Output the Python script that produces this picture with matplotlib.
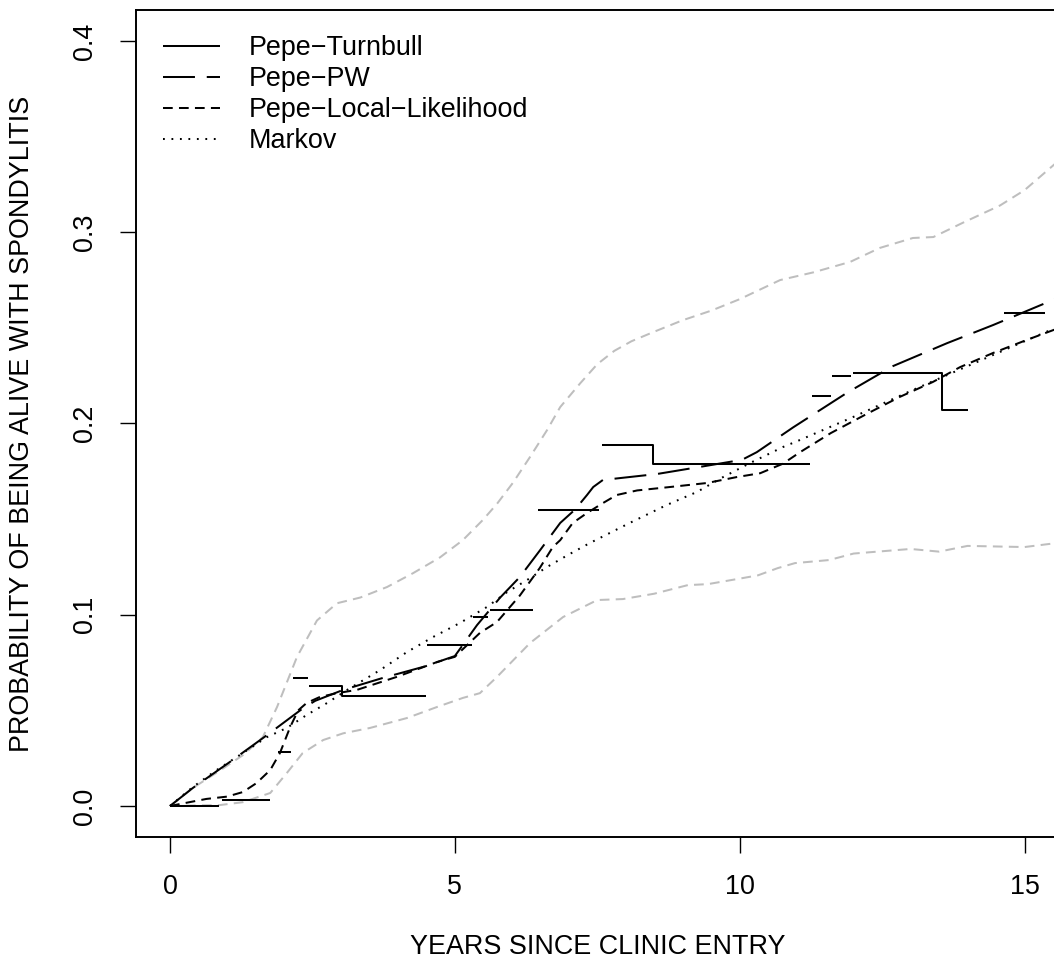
import matplotlib
matplotlib.use("Agg")
import matplotlib.pyplot as plt

plt.rcParams["font.family"] = ["Liberation Sans", "DejaVu Sans"]
plt.rcParams["lines.scale_dashes"] = False

# Pepe-Turnbull: step estimate, given as (start, end, value) pieces
tb_start = [0.00, 0.91, 1.90, 2.16, 2.44, 3.02, 4.51, 5.32, 5.62, 6.46, 7.58, 8.48, 11.27, 11.62, 11.99, 13.55, 14.64]
tb_end   = [0.86, 1.76, 2.12, 2.42, 3.02, 4.49, 5.30, 5.58, 6.37, 7.53, 8.48, 11.23, 11.60, 11.95, 13.55, 14.00, 15.36]
tb_val   = [0.000, 0.003, 0.028, 0.067, 0.0627, 0.0575, 0.084, 0.099, 0.1025, 0.155, 0.1885, 0.179, 0.2145, 0.2249, 0.2263, 0.207, 0.2576]

# Pepe-PW
pw_x = [0, 0.40, 1.05, 1.70, 2.33, 2.55, 3.04, 3.74, 4.44, 5.0, 5.14, 5.39, 5.79, 6.14, 6.50, 6.85,
        7.11, 7.32, 7.43, 7.60, 7.76, 8.55, 9.3, 10.04, 10.3, 10.94, 11.88, 12.69, 13.64, 14.45, 15.5, 15.7]
pw_y = [0, 0.0094, 0.023, 0.037, 0.051, 0.055, 0.0607, 0.067, 0.0727, 0.0784, 0.0842, 0.0946, 0.1088, 0.1197, 0.1339, 0.148,
        0.155, 0.1626, 0.1668, 0.1705, 0.171, 0.1736, 0.1773, 0.181, 0.185, 0.198, 0.216, 0.230, 0.242, 0.2515, 0.2646, 0.267]

# Pepe-Local-Likelihood
ll_x = [0, 0.29, 0.64, 1.0, 1.28, 1.52, 1.76, 1.93, 2.11, 2.25, 2.4, 2.63, 2.93, 3.28, 3.98, 4.69, 5.0, 5.44,
        5.74, 6.14, 6.49, 6.72, 6.85, 7.07, 7.32, 7.6, 7.84, 8.2, 8.78, 9.43, 9.95, 10.36, 10.76, 11.06, 11.6,
        12.23, 12.81, 13.39, 13.87, 14.45, 15.04, 15.7]
ll_y = [0, 0.0017, 0.0037, 0.0049, 0.0073, 0.012, 0.0188, 0.0277, 0.0413, 0.050, 0.0539, 0.057, 0.059, 0.0607, 0.0675, 0.0753, 0.078, 0.0905,
        0.0962, 0.110, 0.1244, 0.1354, 0.139, 0.148, 0.1532, 0.1584, 0.1626, 0.165, 0.1668, 0.1689, 0.172, 0.174, 0.179, 0.185, 0.195,
        0.205, 0.2139, 0.2217, 0.2295, 0.2369, 0.2437, 0.251]

# Markov
mk_x = [0, 0.4, 0.82, 1.28, 1.70, 2.05, 2.40, 2.76, 3.11, 3.69, 4.16, 4.62, 5.09, 5.56, 5.92, 6.27, 6.62, 7.0,
        7.37, 8.07, 8.72, 9.25, 9.71, 10.18, 10.76, 11.06, 12.0, 13.0, 14.0, 15.0, 15.7]
mk_y = [0, 0.0099, 0.0188, 0.0277, 0.036, 0.0408, 0.0476, 0.0539, 0.0607, 0.0711, 0.0805, 0.0884, 0.0957, 0.104, 0.1119, 0.1182, 0.125, 0.1315,
        0.1375, 0.148, 0.1574, 0.1642, 0.172, 0.1793, 0.1877, 0.1914, 0.2035, 0.217, 0.230, 0.243, 0.252]

# grey pointwise band (upper / lower)
up_x = [0, 0.4, 0.9, 1.3, 1.63, 1.88, 2.23, 2.58, 2.93, 3.34, 3.81, 4.27, 4.74, 5.14, 5.49, 5.74, 6.02, 6.32, 6.62,
        6.85, 7.2, 7.5, 7.8, 8.1, 8.5, 9.0, 9.5, 10.0, 10.71, 11.29, 11.94, 12.46, 13.04, 13.4, 13.92, 14.57, 15.0, 15.7]
up_y = [0, 0.0094, 0.019, 0.027, 0.036, 0.0518, 0.078, 0.097, 0.106, 0.109, 0.1145, 0.1218, 0.130, 0.139, 0.1495, 0.158, 0.169, 0.1825, 0.1966,
        0.2086, 0.221, 0.231, 0.238, 0.243, 0.248, 0.254, 0.259, 0.265, 0.275, 0.279, 0.2845, 0.2918, 0.297, 0.2975, 0.305, 0.314, 0.322, 0.340]
lo_x = [0, 0.88, 1.28, 1.76, 2.05, 2.33, 2.69, 3.04, 3.51, 4.16, 4.69, 5.14, 5.44, 5.74, 6.32, 6.9, 7.5, 7.95,
        8.5, 9.09, 9.44, 10.02, 10.32, 10.67, 10.97, 11.57, 12.0, 13.0, 13.5, 14.0, 15.0, 15.7]
lo_y = [0, 0.0005, 0.002, 0.0068, 0.0172, 0.0277, 0.0345, 0.038, 0.0408, 0.046, 0.0518, 0.0565, 0.059, 0.0675, 0.0852, 0.0988, 0.1077, 0.1082,
        0.111, 0.1155, 0.116, 0.119, 0.1206, 0.1244, 0.127, 0.1286, 0.132, 0.1344, 0.133, 0.136, 0.1354, 0.138]

x_ticks = [0, 5, 10, 15]
y_ticks = [0.0, 0.1, 0.2, 0.3, 0.4]
labels = ["Pepe\u2212Turnbull", "Pepe\u2212PW", "Pepe\u2212Local\u2212Likelihood", "Markov"]

W, H = 1054, 964
fig = plt.figure(figsize=(W / 100, H / 100), dpi=100)
ax = fig.add_axes([135.8 / W, (H - 836.6) / H, 922.9 / W, 826.2 / H])
ax.set_xlim(-0.6, 15.6)
ax.set_ylim(-0.016, 0.416)

lw = 1.45
fs = 19.4
grey = "#BEBEBE"
dash_pw = (0, (23, 8.5))
dash_ll = (0, (7, 4.5))
dash_mk = (0, (1.3, 4.8))

ax.plot(up_x, up_y, color=grey, lw=lw, linestyle=dash_ll)
ax.plot(lo_x, lo_y, color=grey, lw=lw, linestyle=dash_ll)

# turnbull pieces: join touching pieces into one stepped path
first = True
i = 0
while i < len(tb_start):
    xs, ys = [tb_start[i], tb_end[i]], [tb_val[i], tb_val[i]]
    while i + 1 < len(tb_start) and abs(tb_start[i + 1] - tb_end[i]) < 1e-9:
        i += 1
        xs += [tb_start[i], tb_end[i]]
        ys += [tb_val[i], tb_val[i]]
    ax.plot(xs, ys, color="black", lw=lw, solid_capstyle="butt",
            label=labels[0] if first else None)
    first = False
    i += 1

ax.plot(pw_x, pw_y, color="black", lw=lw, linestyle=dash_pw, label=labels[1])
ax.plot(ll_x, ll_y, color="black", lw=lw, linestyle=dash_ll, label=labels[2])
ax.plot(mk_x, mk_y, color="black", lw=lw, linestyle=dash_mk, label=labels[3])

ax.set_xticks(x_ticks)
ax.set_xticklabels([str(v) for v in x_ticks])
ax.set_yticks(y_ticks)
ax.set_yticklabels([f"{v:.1f}" for v in y_ticks], rotation=90, va="center")
ax.tick_params(direction="out", length=11.5, width=1.0, labelsize=fs, pad=15.5)
for s in ax.spines.values():
    s.set_linewidth(1.4)

ax.set_xlabel("YEARS SINCE CLINIC ENTRY", fontsize=fs, va="center")
ax.xaxis.set_label_coords(0.5, (836.6 - 947) / 826.2)
ax.set_ylabel("PROBABILITY OF BEING ALIVE WITH SPONDYLITIS", fontsize=fs, va="center")
ax.yaxis.set_label_coords((22 - 135.8) / 922.9, 0.5)

ax.legend(loc="upper left", bbox_to_anchor=((163 - 135.8) / 922.9, (836.6 - 35) / 826.2),
          frameon=False, fontsize=fs, borderpad=0, borderaxespad=0,
          handlelength=2.1, handletextpad=1.1, labelspacing=0.19)

fig.savefig("out.png", dpi=100)
